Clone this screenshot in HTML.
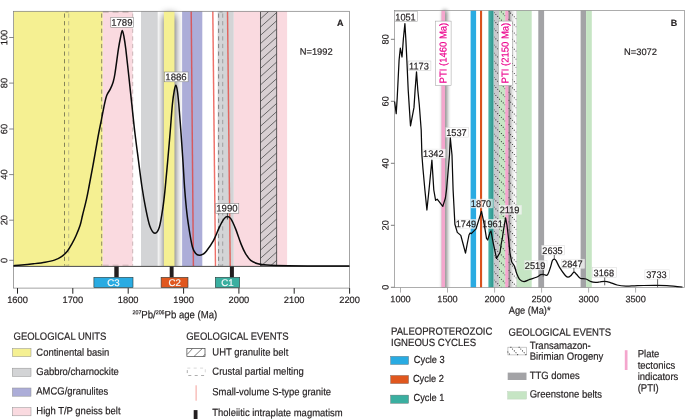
<!DOCTYPE html>
<html><head><meta charset="utf-8"><title>fig</title>
<style>
html,body{margin:0;padding:0;background:#fff;}
svg{display:block;opacity:0.999;}
text{font-family:"Liberation Sans",sans-serif;fill:#231f20;stroke:#231f20;stroke-width:0.18px;}
</style></head><body>
<svg width="685" height="419" viewBox="0 0 685 419">
<defs>
<filter id="blur" x="-250%" y="-10%" width="600%" height="120%"><feGaussianBlur stdDeviation="4 4"/></filter>
<filter id="blur2" x="-500%" y="-10%" width="1100%" height="120%"><feGaussianBlur stdDeviation="2.2 2.2"/></filter>
<pattern id="hatchA" patternUnits="userSpaceOnUse" x="260.4" y="11.5" width="16.3" height="7.7">
  <path d="M-16.3,21.5 L32.6,-18.6 M-16.3,13.8 L32.6,-26.3 M-16.3,29.2 L32.6,-10.9" stroke="#3a3a3a" stroke-width="0.65" fill="none"/>
</pattern>
<pattern id="hatchB" patternUnits="userSpaceOnUse" x="494" y="10" width="7.7" height="7.7">
  <path d="M-1,-1 L8.7,8.7 M-8.7,-1 L1,8.7 M6.7,-1 L16.4,8.7" stroke="#222" stroke-width="0.8" stroke-dasharray="1 2.1" fill="none"/>
</pattern>
<pattern id="hatchL" patternUnits="userSpaceOnUse" x="507.6" y="347.5" width="6.3" height="7.6">
  <path d="M-1,-1.2 L7.3,8.8" stroke="#222" stroke-width="0.7" stroke-dasharray="1 1.6" fill="none"/>
</pattern>
<clipPath id="clipA"><rect x="13.5" y="11.3" width="336" height="254.7"/></clipPath>
<clipPath id="clipAsh"><rect x="150" y="0" width="40" height="266"/></clipPath>
<clipPath id="clipB"><rect x="394.4" y="10.4" width="290" height="277"/></clipPath>
<clipPath id="clipBsh1"><rect x="430" y="0" width="30" height="287.4"/></clipPath>
<clipPath id="clipHB"><rect x="494" y="10.4" width="22.4" height="277"/></clipPath>
<clipPath id="clipBsh2"><rect x="508.3" y="0" width="8.2" height="287.4"/></clipPath>
</defs>

<g id="panelA">
<g clip-path="url(#clipA)">
<rect x="13.5" y="11" width="89.3" height="256" fill="#f5f092"/>
<rect x="102.8" y="11" width="29.8" height="256" fill="#fadae0"/>
<rect x="233.6" y="11" width="53.5" height="256" fill="#fadae0"/>
</g>
<g clip-path="url(#clipAsh)"><rect x="164.5" y="14.5" width="10.2" height="270" fill="#000" opacity="0.74" filter="url(#blur)"/></g>
<g clip-path="url(#clipA)">
<rect x="141" y="11" width="16.7" height="256" fill="#d3d4d6"/>
<rect x="182.1" y="11" width="20.2" height="256" fill="#acadd8"/>
<rect x="163.9" y="11" width="10.6" height="256" fill="#f5f092"/>
<rect x="217.7" y="11" width="16" height="256" fill="#d3d4d6"/>
<rect x="260.4" y="11.5" width="16.3" height="256" fill="#d8cfd2"/>
<path d="M260.4,2.4 L276.7,-12.3 M260.4,10.6 L276.7,-4.0 M260.4,18.9 L276.7,4.2 M260.4,27.2 L276.7,12.5 M260.4,35.4 L276.7,20.7 M260.4,43.7 L276.7,29.0 M260.4,51.9 L276.7,37.3 M260.4,60.2 L276.7,45.5 M260.4,68.5 L276.7,53.8 M260.4,76.7 L276.7,62.0 M260.4,85.0 L276.7,70.3 M260.4,93.2 L276.7,78.6 M260.4,101.5 L276.7,86.8 M260.4,109.8 L276.7,95.1 M260.4,118.0 L276.7,103.4 M260.4,126.3 L276.7,111.6 M260.4,134.5 L276.7,119.9 M260.4,142.8 L276.7,128.1 M260.4,151.1 L276.7,136.4 M260.4,159.3 L276.7,144.6 M260.4,167.6 L276.7,152.9 M260.4,175.8 L276.7,161.2 M260.4,184.1 L276.7,169.4 M260.4,192.4 L276.7,177.7 M260.4,200.6 L276.7,185.9 M260.4,208.9 L276.7,194.2 M260.4,217.1 L276.7,202.5 M260.4,225.4 L276.7,210.7 M260.4,233.7 L276.7,219.0 M260.4,241.9 L276.7,227.2 M260.4,250.2 L276.7,235.5 M260.4,258.4 L276.7,243.8 M260.4,266.7 L276.7,252.0 M260.4,275.0 L276.7,260.3 M260.4,283.2 L276.7,268.5 M260.4,291.5 L276.7,276.8 M260.4,299.7 L276.7,285.1" stroke="#3a3a3a" stroke-width="0.7" fill="none"/>
<rect x="260.4" y="11.6" width="16.3" height="256" fill="none" stroke="#3a3a3a" stroke-width="0.8"/>
<line x1="191.2" y1="11" x2="193.4" y2="266" stroke="#e8392f" stroke-opacity="0.72" stroke-width="1.45"/>
<line x1="212.8" y1="11" x2="215.5" y2="266" stroke="#e8392f" stroke-opacity="0.72" stroke-width="1.45"/>
<line x1="227.5" y1="11" x2="230.2" y2="266" stroke="#e8392f" stroke-opacity="0.72" stroke-width="1.45"/>
<line x1="64.5" y1="13.5" x2="64.5" y2="265.5" stroke="#55543f" stroke-width="0.7" stroke-dasharray="4.2 3.4"/>
<line x1="68.7" y1="13.5" x2="68.7" y2="265.5" stroke="#a3a183" stroke-width="0.7" stroke-dasharray="4.2 3.4"/>
<line x1="64.5" y1="11.8" x2="68.7" y2="11.8" stroke="#55543f" stroke-width="0.7" stroke-dasharray="6 3.9" stroke-dashoffset="-1"/>
<line x1="64.5" y1="265.2" x2="68.7" y2="265.2" stroke="#a3a183" stroke-width="0.6" stroke-dasharray="6 3.9" stroke-dashoffset="-1"/>
<line x1="101.7" y1="13.5" x2="101.7" y2="265.5" stroke="#5f5b4a" stroke-width="0.7" stroke-dasharray="4.2 3.4"/>
<line x1="132.7" y1="13.5" x2="132.7" y2="265.5" stroke="#b59c9e" stroke-width="0.7" stroke-dasharray="4.2 3.4"/>
<line x1="101.7" y1="11.8" x2="132.7" y2="11.8" stroke="#5f5b4a" stroke-width="0.7" stroke-dasharray="6 3.9" stroke-dashoffset="-1"/>
<line x1="101.7" y1="265.2" x2="132.7" y2="265.2" stroke="#b59c9e" stroke-width="0.6" stroke-dasharray="6 3.9" stroke-dashoffset="-1"/>
<line x1="218.6" y1="13.5" x2="218.6" y2="265.5" stroke="#5e5e5e" stroke-width="0.7" stroke-dasharray="4.2 3.4"/>
<line x1="222.7" y1="13.5" x2="222.7" y2="265.5" stroke="#8a8a8a" stroke-width="0.7" stroke-dasharray="4.2 3.4"/>
<line x1="218.6" y1="11.8" x2="222.7" y2="11.8" stroke="#5e5e5e" stroke-width="0.7" stroke-dasharray="6 3.9" stroke-dashoffset="-1"/>
<line x1="218.6" y1="265.2" x2="222.7" y2="265.2" stroke="#8a8a8a" stroke-width="0.6" stroke-dasharray="6 3.9" stroke-dashoffset="-1"/>
</g>
<rect x="13.5" y="11.3" width="335.9" height="276.8" fill="none" stroke="#7d7d7d" stroke-width="0.7"/>
<line x1="13.5" y1="266.4" x2="349.4" y2="266.4" stroke="#1c1c1c" stroke-width="0.8"/>
<rect x="110.8" y="17.3" width="22.8" height="10.1" fill="#fff" fill-opacity="1" stroke="#777" stroke-width="0.5"/>
<rect x="164.7" y="72.0" width="23.4" height="9.8" fill="#fff" fill-opacity="1" stroke="#777" stroke-width="0.5"/>
<rect x="215.8" y="203.6" width="23.0" height="9.6" fill="#fff" fill-opacity="1" stroke="#777" stroke-width="0.5"/>
<path d="M13.50,265.70C14.87,265.60 18.38,265.42 21.70,265.10C25.02,264.78 29.50,264.28 33.40,263.80C37.30,263.32 41.60,262.82 45.10,262.20C48.60,261.58 51.67,261.03 54.40,260.10C57.13,259.17 59.35,258.07 61.50,256.60C63.65,255.13 65.55,253.45 67.30,251.30C69.05,249.15 70.53,246.33 72.00,243.70C73.47,241.07 74.73,238.62 76.10,235.50C77.47,232.38 79.12,228.42 80.20,225.00C81.28,221.58 81.57,219.23 82.60,215.00C83.63,210.77 85.28,204.60 86.40,199.60C87.52,194.60 88.10,191.27 89.30,185.00C90.50,178.73 92.15,170.00 93.60,162.00C95.05,154.00 96.67,144.20 98.00,137.00C99.33,129.80 100.52,124.27 101.60,118.80C102.68,113.33 103.65,108.10 104.50,104.20C105.35,100.30 105.72,97.95 106.70,95.40C107.68,92.85 109.35,91.05 110.40,88.90C111.45,86.75 112.25,84.98 113.00,82.50C113.75,80.02 114.00,79.55 114.90,74.00C115.80,68.45 117.45,55.37 118.40,49.20C119.35,43.03 119.95,40.12 120.60,37.00C121.25,33.88 121.73,30.50 122.30,30.50C122.87,30.50 123.42,33.88 124.00,37.00C124.58,40.12 125.00,42.70 125.80,49.20C126.60,55.70 127.80,66.83 128.80,76.00C129.80,85.17 130.80,94.87 131.80,104.20C132.80,113.53 133.70,122.70 134.80,132.00C135.90,141.30 137.20,150.83 138.40,160.00C139.60,169.17 140.83,179.18 142.00,187.00C143.17,194.82 144.10,200.42 145.40,206.90C146.70,213.38 148.22,221.52 149.80,225.90C151.38,230.28 153.32,232.97 154.90,233.20C156.48,233.43 157.95,231.68 159.30,227.30C160.65,222.92 162.02,213.45 163.00,206.90C163.98,200.35 164.43,195.48 165.20,188.00C165.97,180.52 166.78,171.17 167.60,162.00C168.42,152.83 169.30,142.63 170.10,133.00C170.90,123.37 171.70,111.28 172.40,104.20C173.10,97.12 173.73,93.67 174.30,90.50C174.87,87.33 175.30,85.20 175.80,85.20C176.30,85.20 176.80,87.33 177.30,90.50C177.80,93.67 178.18,97.12 178.80,104.20C179.42,111.28 180.30,123.37 181.00,133.00C181.70,142.63 182.40,152.83 183.00,162.00C183.60,171.17 183.93,179.30 184.60,188.00C185.27,196.70 186.10,206.43 187.00,214.20C187.90,221.97 189.07,229.05 190.00,234.60C190.93,240.15 191.68,244.38 192.60,247.50C193.52,250.62 194.40,252.00 195.50,253.30C196.60,254.60 197.95,255.15 199.20,255.30C200.45,255.45 201.82,254.88 203.00,254.20C204.18,253.52 204.53,253.52 206.30,251.20C208.07,248.88 211.42,244.32 213.60,240.30C215.78,236.28 217.70,230.63 219.40,227.10C221.10,223.57 222.47,220.85 223.80,219.10C225.13,217.35 226.18,216.60 227.40,216.60C228.62,216.60 229.75,217.10 231.10,219.10C232.45,221.10 233.80,224.35 235.50,228.60C237.20,232.85 239.65,240.48 241.30,244.60C242.95,248.72 243.83,250.67 245.40,253.30C246.97,255.93 248.62,258.67 250.70,260.40C252.78,262.13 255.20,262.92 257.90,263.70C260.60,264.48 261.82,264.75 266.90,265.10C271.98,265.45 279.55,265.65 288.40,265.80C297.25,265.95 309.83,265.95 320.00,266.00C330.17,266.05 344.50,266.08 349.40,266.10" fill="none" stroke="#0a0a0a" stroke-width="1.5" stroke-linejoin="round" stroke-linecap="butt"/>
<text transform="translate(121.8,25.8) rotate(0.03) scale(1,1.0)" font-size="9.6" text-anchor="middle">1789</text>
<text transform="translate(176.0,80.2) rotate(0.03) scale(1,1.0)" font-size="9.6" text-anchor="middle">1886</text>
<text transform="translate(226.9,211.6) rotate(0.03) scale(1,1.0)" font-size="9.6" text-anchor="middle">1990</text>
<line x1="227.4" y1="213.2" x2="227.4" y2="219.5" stroke="#111" stroke-width="0.7"/>
<rect x="114.3" y="266.5" width="4.4" height="10.8" fill="#231f20"/>
<rect x="169.7" y="266.5" width="3.9" height="10.8" fill="#231f20"/>
<rect x="229.9" y="266.5" width="4.0" height="10.8" fill="#231f20"/>
<rect x="93.9" y="277.3" width="39.1" height="10.3" fill="#29abe2" stroke="#2b3b3b" stroke-width="0.6"/>
<text transform="translate(113.5,286) rotate(0.03)" font-size="9.7" text-anchor="middle" style="fill:#f4fafa;stroke:#f4fafa">C3</text>
<rect x="161.1" y="277.3" width="26.9" height="10.3" fill="#e0571e" stroke="#2b3b3b" stroke-width="0.6"/>
<text transform="translate(174.6,286) rotate(0.03)" font-size="9.7" text-anchor="middle" style="fill:#f4fafa;stroke:#f4fafa">C2</text>
<rect x="215.3" y="277.3" width="24.4" height="10.3" fill="#3aafa0" stroke="#2b3b3b" stroke-width="0.6"/>
<text transform="translate(227.5,286) rotate(0.03)" font-size="9.7" text-anchor="middle" style="fill:#f4fafa;stroke:#f4fafa">C1</text>
<line x1="17.5" y1="288.1" x2="17.5" y2="293.7" stroke="#222" stroke-width="1"/>
<text transform="translate(17.5,303.1) rotate(0.03)" font-size="9.3" text-anchor="middle">1600</text>
<line x1="72.8" y1="288.1" x2="72.8" y2="293.7" stroke="#222" stroke-width="1"/>
<text transform="translate(72.8,303.1) rotate(0.03)" font-size="9.3" text-anchor="middle">1700</text>
<line x1="128.2" y1="288.1" x2="128.2" y2="293.7" stroke="#222" stroke-width="1"/>
<text transform="translate(128.2,303.1) rotate(0.03)" font-size="9.3" text-anchor="middle">1800</text>
<line x1="183.6" y1="288.1" x2="183.6" y2="293.7" stroke="#222" stroke-width="1"/>
<text transform="translate(183.6,303.1) rotate(0.03)" font-size="9.3" text-anchor="middle">1900</text>
<line x1="238.9" y1="288.1" x2="238.9" y2="293.7" stroke="#222" stroke-width="1"/>
<text transform="translate(238.9,303.1) rotate(0.03)" font-size="9.3" text-anchor="middle">2000</text>
<line x1="294.2" y1="288.1" x2="294.2" y2="293.7" stroke="#222" stroke-width="1"/>
<text transform="translate(294.2,303.1) rotate(0.03)" font-size="9.3" text-anchor="middle">2100</text>
<line x1="349.6" y1="288.1" x2="349.6" y2="293.7" stroke="#222" stroke-width="1"/>
<text transform="translate(349.6,303.1) rotate(0.03)" font-size="9.3" text-anchor="middle">2200</text>
<line x1="9.2" y1="37.5" x2="13.5" y2="37.5" stroke="#555" stroke-width="0.7"/>
<text transform="translate(7.3,37.5) rotate(-89.97)" font-size="9.3" text-anchor="middle">100</text>
<line x1="9.2" y1="83.1" x2="13.5" y2="83.1" stroke="#555" stroke-width="0.7"/>
<text transform="translate(7.3,83.1) rotate(-89.97)" font-size="9.3" text-anchor="middle">80</text>
<line x1="9.2" y1="129" x2="13.5" y2="129" stroke="#555" stroke-width="0.7"/>
<text transform="translate(7.3,129) rotate(-89.97)" font-size="9.3" text-anchor="middle">60</text>
<line x1="9.2" y1="174.6" x2="13.5" y2="174.6" stroke="#555" stroke-width="0.7"/>
<text transform="translate(7.3,174.6) rotate(-89.97)" font-size="9.3" text-anchor="middle">40</text>
<line x1="9.2" y1="220.2" x2="13.5" y2="220.2" stroke="#555" stroke-width="0.7"/>
<text transform="translate(7.3,220.2) rotate(-89.97)" font-size="9.3" text-anchor="middle">20</text>
<line x1="9.2" y1="260.3" x2="13.5" y2="260.3" stroke="#555" stroke-width="0.7"/>
<text transform="translate(7.3,260.3) rotate(-89.97)" font-size="9.3" text-anchor="middle">0</text>
<text transform="translate(132.5,318.2) rotate(0.03) scale(1,1.1)" font-size="9.6"><tspan font-size="5.3" dy="-3.6">207</tspan><tspan dy="3.6">Pb/</tspan><tspan font-size="5.3" dy="-3.6">206</tspan><tspan dy="3.6">Pb age (Ma)</tspan></text>
<text transform="translate(337,25.9) rotate(0.03)" font-size="9" font-weight="bold">A</text>
<text transform="translate(299.7,54.8) rotate(0.03)" font-size="9.35">N=1992</text>
<text transform="translate(13.5,339.7) rotate(0.03) scale(1,1.1)" font-size="9.5">GEOLOGICAL UNITS</text>
<rect x="12.4" y="348.5" width="18.6" height="8.2" fill="#f5f092" stroke="#8f8f8f" stroke-width="0.5"/>
<text transform="translate(36.3,355.7) rotate(0.03) scale(1,1.1)" font-size="9.47">Continental basin</text>
<rect x="12.4" y="368.2" width="18.6" height="8.2" fill="#d3d4d6" stroke="#8f8f8f" stroke-width="0.5"/>
<text transform="translate(36.3,374.9) rotate(0.03) scale(1,1.1)" font-size="9.47">Gabbro/charnockite</text>
<rect x="12.4" y="388.0" width="18.6" height="8.2" fill="#acadd8" stroke="#8f8f8f" stroke-width="0.5"/>
<text transform="translate(36.3,394.6) rotate(0.03) scale(1,1.1)" font-size="9.47">AMCG/granulites</text>
<rect x="12.4" y="407.59999999999997" width="18.6" height="8.2" fill="#fadae0" stroke="#8f8f8f" stroke-width="0.5"/>
<text transform="translate(36.3,414.3) rotate(0.03) scale(1,1.1)" font-size="9.47">High T/P gneiss belt</text>
<text transform="translate(186.2,339.8) rotate(0.03) scale(1,1.1)" font-size="9.5">GEOLOGICAL EVENTS</text>
<g><rect x="186.9" y="348.6" width="18.1" height="7.9" fill="#fff" stroke="#333" stroke-width="0.65"/><path d="M187.3,354.3 L192.3,348.8 M194.1,356.4 L202.2,348.6 M203.1,356.4 L205,354.3" stroke="#333" stroke-width="0.65" fill="none"/></g>
<text transform="translate(212.3,355.6) rotate(0.03) scale(1,1.1)" font-size="9.47">UHT granulite belt</text>
<path d="M187.3,368.1 H205.3 V375.5" fill="none" stroke="#cfcfcf" stroke-width="0.8" stroke-dasharray="3 3.4"/>
<path d="M205.3,375.5 H187.3 V368.1" fill="none" stroke="#8c8c8c" stroke-width="0.7" stroke-dasharray="3 3.4" stroke-dashoffset="-1.2"/>
<text transform="translate(212.3,374.7) rotate(0.03) scale(1,1.1)" font-size="9.47">Crustal partial melting</text>
<line x1="196.1" y1="385.3" x2="196.1" y2="400.7" stroke="#f4a09a" stroke-width="1"/>
<text transform="translate(212.3,395.3) rotate(0.03) scale(1,1.1)" font-size="9.47">Small-volume S-type granite</text>
<rect x="193.7" y="410.1" width="3.8" height="10" fill="#231f20"/>
<text transform="translate(212.3,416.1) rotate(0.03) scale(1,1.1)" font-size="9.47">Tholeiitic intraplate magmatism</text>
</g>
<g id="panelB">
<g clip-path="url(#clipBsh1)"><rect x="443.5" y="10.4" width="2.8" height="290" fill="#000" opacity="0.8" filter="url(#blur2)"/></g>
<g clip-path="url(#clipB)">
<rect x="470.6" y="10" width="5.5" height="278" fill="#29abe2"/>
<rect x="480" y="10" width="2.1" height="278" fill="#d9531e"/>
<linearGradient id="tealg" x1="0" x2="1" y1="0" y2="0"><stop offset="0" stop-color="#48b6ad"/><stop offset="1" stop-color="#2f928a"/></linearGradient>
<rect x="488.4" y="10" width="5.2" height="278" fill="url(#tealg)"/>
<rect x="494" y="10" width="5" height="278" fill="#c9c9cd"/>
<rect x="499" y="10" width="6.2" height="278" fill="#c6e5c4"/>
<linearGradient id="shg" x1="0" x2="1" y1="0" y2="0"><stop offset="0" stop-color="#6a6a6a"/><stop offset="0.12" stop-color="#7c7c7c"/><stop offset="0.27" stop-color="#c2c2c2"/><stop offset="0.5" stop-color="#e6e6e6"/><stop offset="0.8" stop-color="#fafafa"/><stop offset="1" stop-color="#fff"/></linearGradient>
<rect x="508.3" y="10" width="8.2" height="278" fill="url(#shg)"/>
<rect x="516.4" y="10" width="0.5" height="278" fill="#bbb"/>
<rect x="516.9" y="10" width="14.8" height="278" fill="#c6e5c4"/>
<g clip-path="url(#clipHB)"><path d="M494,-60.2 L516.4,-37.8 M494,-52.1 L516.4,-29.7 M494,-44.0 L516.4,-21.6 M494,-35.9 L516.4,-13.5 M494,-27.8 L516.4,-5.4 M494,-19.7 L516.4,2.7 M494,-11.6 L516.4,10.8 M494,-3.5 L516.4,18.9 M494,4.6 L516.4,27.0 M494,12.7 L516.4,35.1 M494,20.8 L516.4,43.2 M494,28.9 L516.4,51.3 M494,37.0 L516.4,59.4 M494,45.1 L516.4,67.5 M494,53.2 L516.4,75.6 M494,61.3 L516.4,83.7 M494,69.4 L516.4,91.8 M494,77.5 L516.4,99.9 M494,85.6 L516.4,108.0 M494,93.7 L516.4,116.1 M494,101.8 L516.4,124.2 M494,109.9 L516.4,132.3 M494,118.0 L516.4,140.4 M494,126.1 L516.4,148.5 M494,134.2 L516.4,156.6 M494,142.3 L516.4,164.7 M494,150.4 L516.4,172.8 M494,158.5 L516.4,180.9 M494,166.6 L516.4,189.0 M494,174.7 L516.4,197.1 M494,182.8 L516.4,205.2 M494,190.9 L516.4,213.3 M494,199.0 L516.4,221.4 M494,207.1 L516.4,229.5 M494,215.2 L516.4,237.6 M494,223.3 L516.4,245.7 M494,231.4 L516.4,253.8 M494,239.5 L516.4,261.9 M494,247.6 L516.4,270.0 M494,255.7 L516.4,278.1 M494,263.8 L516.4,286.2 M494,271.9 L516.4,294.3 M494,280.0 L516.4,302.4 M494,288.1 L516.4,310.5 M494,296.2 L516.4,318.6" stroke="#2a2a2a" stroke-width="1.05" stroke-linecap="round" stroke-dasharray="0.01 2.6" fill="none"/></g>
<rect x="505.2" y="10" width="3.2" height="278" fill="#f4a6cd"/>
<rect x="441.5" y="10" width="3.5" height="278" fill="#f4a6cd"/>
<rect x="538.3" y="10" width="5.8" height="278" fill="#a3a3a6"/>
<rect x="580.6" y="10" width="5.5" height="278" fill="#a3a3a6"/>
<rect x="586.1" y="10" width="5.7" height="278" fill="#c6e5c4"/>
</g>
<rect x="394.4" y="10.4" width="290" height="277" fill="none" stroke="#8a8a8a" stroke-width="0.7"/>
<rect x="394.8" y="11.2" width="22.8" height="10.2" fill="#fff" fill-opacity="1" stroke="#9a9a9a" stroke-width="0.5"/>
<rect x="408.3" y="61" width="22.6" height="9.6" fill="#fff" fill-opacity="1" stroke="#c8c8c8" stroke-width="0.5"/>
<rect x="422.8" y="149.1" width="22.4" height="8.9" fill="#fff" fill-opacity="0.85" stroke="#e0e0e0" stroke-width="0.5"/>
<rect x="445.9" y="127.6" width="22.4" height="9.5" fill="#fff" fill-opacity="0.9" stroke="#d8d8d8" stroke-width="0.5"/>
<rect x="456.1" y="219.3" width="21.1" height="9.0" fill="#fff" fill-opacity="0.62" stroke="#e8e8e8" stroke-width="0.5"/>
<rect x="471" y="199.1" width="21.4" height="8.8" fill="#fff" fill-opacity="0.62" stroke="#e8e8e8" stroke-width="0.5"/>
<rect x="483" y="219.3" width="20.5" height="9.0" fill="#fff" fill-opacity="0.62" stroke="#e8e8e8" stroke-width="0.5"/>
<rect x="499" y="205.3" width="22.6" height="9.0" fill="#fff" fill-opacity="0.62" stroke="#e8e8e8" stroke-width="0.5"/>
<rect x="524.7" y="260.6" width="22.3" height="9.3" fill="#fff" fill-opacity="0.6" stroke="#e0e0e0" stroke-width="0.5"/>
<rect x="541.8" y="245.4" width="22.9" height="9.5" fill="#fff" fill-opacity="0.9" stroke="#d8d8d8" stroke-width="0.5"/>
<rect x="561.5" y="259.2" width="23.1" height="9.1" fill="#fff" fill-opacity="0.7" stroke="#e0e0e0" stroke-width="0.5"/>
<rect x="592.6" y="267.4" width="23.8" height="9.8" fill="#fff" fill-opacity="0.9" stroke="#d8d8d8" stroke-width="0.5"/>
<rect x="644.9" y="269.9" width="24.5" height="9.2" fill="#fff" fill-opacity="0.9" stroke="#d8d8d8" stroke-width="0.5"/>
<path d="M394.60,101.50L396.20,113.60L397.20,98.00L398.20,78.00L399.10,60.00L400.30,48.20L402.00,57.00L402.50,50.80L403.40,38.50L404.90,23.60L405.90,40.50L406.90,61.00L408.20,90.00L410.50,125.90L414.00,107.40L415.10,90.00L416.50,71.90L417.80,90.00L419.30,105.00L421.20,130.00L421.90,155.00L422.90,168.00L424.90,190.00L426.90,210.00L429.00,190.00L431.90,160.10L433.80,190.00L435.60,200.30L437.20,199.20L442.80,206.40L445.40,198.00L446.50,190.00L449.50,155.00L450.30,137.80L452.00,155.00L453.10,190.00L454.90,224.20L457.30,232.40L460.80,235.40L463.10,244.00L465.50,253.10L467.20,244.00L469.00,235.00L470.10,233.00L471.30,233.60L476.00,228.90L478.90,219.60L481.50,211.40L484.20,224.20L486.50,238.30L487.70,240.00L490.00,232.40L491.00,231.00L493.00,241.80L496.50,258.40L500.00,252.50L501.20,244.00L502.30,238.50L503.50,230.00L505.60,217.80L507.00,225.40L508.70,240.00L509.90,252.50L511.70,262.20" fill="none" stroke="#0a0a0a" stroke-width="1.25" stroke-linejoin="round"/>
<path d="M511.70,262.20C512.17,262.88 513.67,264.40 514.50,266.30C515.33,268.20 515.85,271.42 516.70,273.60C517.55,275.78 518.38,278.07 519.60,279.40C520.82,280.73 522.30,281.60 524.00,281.60C525.70,281.60 527.73,280.13 529.80,279.40C531.87,278.67 534.57,277.98 536.40,277.20C538.23,276.42 539.67,275.18 540.80,274.70C541.93,274.22 542.12,274.25 543.20,274.30C544.28,274.35 546.12,276.10 547.30,275.00C548.48,273.90 549.45,270.10 550.30,267.70C551.15,265.30 551.73,262.05 552.40,260.60C553.07,259.15 553.68,259.00 554.30,259.00C554.92,259.00 555.20,259.15 556.10,260.60C557.00,262.05 558.23,265.30 559.70,267.70C561.17,270.10 563.55,273.42 564.90,275.00C566.25,276.58 566.83,277.07 567.80,277.20C568.77,277.33 569.68,276.65 570.70,275.80C571.72,274.95 572.93,272.35 573.90,272.10C574.87,271.85 575.45,273.28 576.50,274.30C577.55,275.32 578.62,277.42 580.20,278.20C581.78,278.98 584.18,278.43 586.00,279.00C587.82,279.57 589.52,281.05 591.10,281.60C592.68,282.15 594.08,282.23 595.50,282.30C596.92,282.37 598.07,282.17 599.60,282.00C601.13,281.83 603.00,281.25 604.70,281.30C606.40,281.35 607.73,281.68 609.80,282.30C611.87,282.92 614.42,284.37 617.10,285.00C619.78,285.63 622.98,285.97 625.90,286.10C628.82,286.23 631.68,285.90 634.60,285.80C637.52,285.70 639.57,285.57 643.40,285.50C647.23,285.43 653.70,285.37 657.60,285.40C661.50,285.43 663.82,285.53 666.80,285.70C669.78,285.87 672.88,286.18 675.50,286.40C678.12,286.62 681.33,286.90 682.50,287.00" fill="none" stroke="#0a0a0a" stroke-width="1.25" stroke-linejoin="round"/>
<rect x="435.3" y="21.1" width="15.8" height="64.4" fill="#fff" stroke="#9a9a9a" stroke-width="0.5"/>
<text transform="translate(446.5,53.1) rotate(-89.97) scale(1,1.05)" font-size="9.5" text-anchor="middle" style="fill:#ec008c;stroke:#ec008c">PTI (1460 Ma)</text>
<rect x="498.4" y="21.1" width="13.9" height="64.4" fill="#fff" stroke="#9a9a9a" stroke-width="0.5"/>
<text transform="translate(508.6,53.1) rotate(-89.97) scale(1,1.05)" font-size="9.5" text-anchor="middle" style="fill:#ec008c;stroke:#ec008c">PTI (2150 Ma)</text>
<text transform="translate(405.5,20.4) rotate(0.03) scale(1,1.05)" font-size="9.2" text-anchor="middle">1051</text>
<text transform="translate(418.9,69.6) rotate(0.03) scale(1,1.05)" font-size="9.2" text-anchor="middle">1173</text>
<text transform="translate(433.3,157.0) rotate(0.03) scale(1,1.05)" font-size="9.2" text-anchor="middle">1342</text>
<text transform="translate(456.4,136.1) rotate(0.03) scale(1,1.05)" font-size="9.2" text-anchor="middle">1537</text>
<text transform="translate(465.9,227.3) rotate(0.03) scale(1,1.05)" font-size="9.2" text-anchor="middle">1749</text>
<text transform="translate(481.0,206.9) rotate(0.03) scale(1,1.05)" font-size="9.2" text-anchor="middle">1870</text>
<text transform="translate(492.6,227.3) rotate(0.03) scale(1,1.05)" font-size="9.2" text-anchor="middle">1961</text>
<text transform="translate(509.6,213.3) rotate(0.03) scale(1,1.05)" font-size="9.2" text-anchor="middle">2119</text>
<text transform="translate(535.1,268.9) rotate(0.03) scale(1,1.05)" font-size="9.2" text-anchor="middle">2519</text>
<text transform="translate(552.5,253.9) rotate(0.03) scale(1,1.05)" font-size="9.2" text-anchor="middle">2635</text>
<text transform="translate(572.3,267.3) rotate(0.03) scale(1,1.05)" font-size="9.2" text-anchor="middle">2847</text>
<text transform="translate(603.8,276.2) rotate(0.03) scale(1,1.05)" font-size="9.2" text-anchor="middle">3168</text>
<text transform="translate(656.4,278.1) rotate(0.03) scale(1,1.05)" font-size="9.2" text-anchor="middle">3733</text>
<line x1="543.2" y1="270" x2="543.2" y2="276.5" stroke="#222" stroke-width="0.7"/>
<line x1="554.3" y1="255" x2="554.3" y2="259" stroke="#222" stroke-width="0.7"/>
<line x1="573.9" y1="267.8" x2="573.9" y2="272" stroke="#222" stroke-width="0.7"/>
<line x1="604.7" y1="277.5" x2="604.7" y2="285.3" stroke="#222" stroke-width="0.7"/>
<line x1="657.6" y1="279.1" x2="657.6" y2="287.3" stroke="#222" stroke-width="0.7"/>
<line x1="400.5" y1="287.4" x2="400.5" y2="292.6" stroke="#9a9a9a" stroke-width="0.8"/>
<text transform="translate(400.5,302.3) rotate(0.03)" font-size="9.2" text-anchor="middle">1000</text>
<line x1="447.5" y1="287.4" x2="447.5" y2="292.6" stroke="#9a9a9a" stroke-width="0.8"/>
<text transform="translate(447.5,302.3) rotate(0.03)" font-size="9.2" text-anchor="middle">1500</text>
<line x1="494.6" y1="287.4" x2="494.6" y2="292.6" stroke="#9a9a9a" stroke-width="0.8"/>
<text transform="translate(494.6,302.3) rotate(0.03)" font-size="9.2" text-anchor="middle">2000</text>
<line x1="541.6" y1="287.4" x2="541.6" y2="292.6" stroke="#9a9a9a" stroke-width="0.8"/>
<text transform="translate(541.6,302.3) rotate(0.03)" font-size="9.2" text-anchor="middle">2500</text>
<line x1="588.6" y1="287.4" x2="588.6" y2="292.6" stroke="#9a9a9a" stroke-width="0.8"/>
<text transform="translate(588.6,302.3) rotate(0.03)" font-size="9.2" text-anchor="middle">3000</text>
<line x1="635.6" y1="287.4" x2="635.6" y2="292.6" stroke="#9a9a9a" stroke-width="0.8"/>
<text transform="translate(635.6,302.3) rotate(0.03)" font-size="9.2" text-anchor="middle">3500</text>
<line x1="390.9" y1="39.3" x2="394.4" y2="39.3" stroke="#444" stroke-width="0.7"/>
<text transform="translate(388.6,39.3) rotate(-89.97)" font-size="9.2" text-anchor="middle">80</text>
<line x1="390.9" y1="101.3" x2="394.4" y2="101.3" stroke="#444" stroke-width="0.7"/>
<text transform="translate(388.6,101.3) rotate(-89.97)" font-size="9.2" text-anchor="middle">60</text>
<line x1="390.9" y1="163.3" x2="394.4" y2="163.3" stroke="#444" stroke-width="0.7"/>
<text transform="translate(388.6,163.3) rotate(-89.97)" font-size="9.2" text-anchor="middle">40</text>
<line x1="390.9" y1="225.3" x2="394.4" y2="225.3" stroke="#444" stroke-width="0.7"/>
<text transform="translate(388.6,225.3) rotate(-89.97)" font-size="9.2" text-anchor="middle">20</text>
<line x1="390.9" y1="287.3" x2="394.4" y2="287.3" stroke="#444" stroke-width="0.7"/>
<text transform="translate(388.6,287.3) rotate(-89.97)" font-size="9.2" text-anchor="middle">0</text>
<text transform="translate(508.7,313.7) rotate(0.03) scale(1,1.1)" font-size="9.3">Age (Ma)*</text>
<text transform="translate(670.8,25.9) rotate(0.03)" font-size="9" font-weight="bold">B</text>
<text transform="translate(624,55) rotate(0.03)" font-size="9.35">N=3072</text>
<text transform="translate(391,334.8) rotate(0.03) scale(1,1.1)" font-size="9.58">PALEOPROTEROZOIC</text>
<text transform="translate(391,346) rotate(0.03) scale(1,1.1)" font-size="9.58">IGNEOUS CYCLES</text>
<rect x="390.6" y="356.3" width="18" height="8.2" fill="#29abe2" stroke="#666" stroke-width="0.4"/>
<text transform="translate(413.8,362.9) rotate(0.03) scale(1,1.1)" font-size="9.3">Cycle 3</text>
<rect x="390.6" y="375.4" width="18" height="8.2" fill="#e0571e" stroke="#666" stroke-width="0.4"/>
<text transform="translate(412.9,382) rotate(0.03) scale(1,1.1)" font-size="9.3">Cycle 2</text>
<rect x="390.6" y="395.1" width="18" height="8.2" fill="#3aafa0" stroke="#666" stroke-width="0.4"/>
<text transform="translate(413.5,400.9) rotate(0.03) scale(1,1.1)" font-size="9.3">Cycle 1</text>
<text transform="translate(508.6,335.7) rotate(0.03) scale(1,1.1)" font-size="9.5">GEOLOGICAL EVENTS</text>
<rect x="507.9" y="347.2" width="18.7" height="7.7" fill="#fff" stroke="#a6a6a6" stroke-width="0.6"/>
<path d="M510.9,347.2 L518,354.9 M519.1,347.2 L526.2,354.9 M507.9,352 L510,354.9" stroke="#1a1a1a" stroke-width="1.05" stroke-linecap="round" stroke-dasharray="0.01 2.5" fill="none"/>
<text transform="translate(529.7,349) rotate(0.03) scale(1,1.1)" font-size="9.55">Transamazon-</text>
<text transform="translate(529.7,359.8) rotate(0.03) scale(1,1.1)" font-size="9.55">Birimian Orogeny</text>
<rect x="507.7" y="372.6" width="18.8" height="7.4" fill="#a3a3a6"/>
<text transform="translate(529.7,379) rotate(0.03) scale(1,1.1)" font-size="9.5">TTG domes</text>
<rect x="507.7" y="391.6" width="18.8" height="7.5" fill="#c6e5c4" stroke="#b5cbb3" stroke-width="0.4"/>
<text transform="translate(529.7,397.6) rotate(0.03) scale(1,1.1)" font-size="9.5">Greenstone belts</text>
<rect x="624.8" y="350.2" width="2.7" height="19.8" fill="#f4a6cd"/>
<text transform="translate(637.7,357.3) rotate(0.03) scale(1,1.1)" font-size="9.5">Plate</text>
<text transform="translate(637.7,368.7) rotate(0.03) scale(1,1.1)" font-size="9.5">tectonics</text>
<text transform="translate(637.7,380.1) rotate(0.03) scale(1,1.1)" font-size="9.5">indicators</text>
<text transform="translate(637.7,391.5) rotate(0.03) scale(1,1.1)" font-size="9.5">(PTI)</text>
</g>
</svg></body></html>
